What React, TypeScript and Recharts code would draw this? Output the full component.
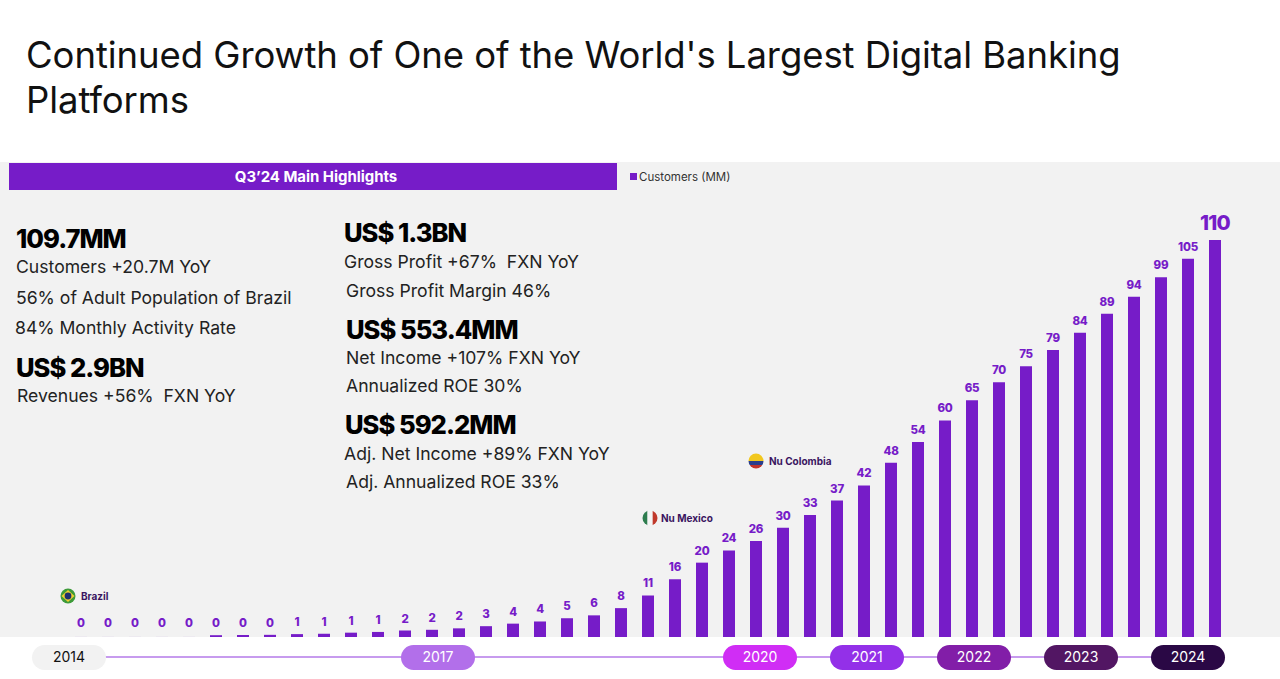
import React from "react";
import { BarChart, Bar, XAxis, YAxis, LabelList } from "recharts";

const quarterIds = [
  "Q1-14", "Q2-14", "Q3-14", "Q4-14", "Q1-15", "Q2-15", "Q3-15", "Q4-15", "Q1-16", "Q2-16", "Q3-16",
  "Q4-16", "Q1-17", "Q2-17", "Q3-17", "Q4-17", "Q1-18", "Q2-18", "Q3-18", "Q4-18", "Q1-19", "Q2-19",
  "Q3-19", "Q4-19", "Q1-20", "Q2-20", "Q3-20", "Q4-20", "Q1-21", "Q2-21", "Q3-21", "Q4-21", "Q1-22",
  "Q2-22", "Q3-22", "Q4-22", "Q1-23", "Q2-23", "Q3-23", "Q4-23", "Q1-24", "Q2-24", "Q3-24",
];
// bar heights (the first five have no visible bar)
const customers = [
  0.01, 0.01, 0.01, 0.01, 0.01, 0.5, 0.55, 0.6, 0.8, 0.9, 1.2, 1.4, 1.8, 2, 2.4, 3, 3.7, 4.3, 5.2, 6, 8, 11.5,
  16, 20.6, 24, 26.6, 30.3, 33.8, 37.8, 42, 48.3, 54, 60, 65.6, 70.6, 75, 79.5, 84.3, 89.6, 94.3, 99.7, 104.8, 110,
];
// printed labels
const customerLabels = [
  0, 0, 0, 0, 0, 0, 0, 0, 1, 1, 1, 1, 2, 2, 2, 3, 4, 4, 5, 6, 8, 11, 16, 20, 24,
  26, 30, 33, 37, 42, 48, 54, 60, 65, 70, 75, 79, 84, 89, 94, 99, 105, 110,
];
const years = ["2014", "2017", "2020", "2021", "2022", "2023", "2024"];
const yearColors = ["#F2F2F2", "#B26FEA", "#D02DF5", "#9330E8", "#821EA8", "#521663", "#2A0845"];
const yearCenters = [69, 438, 760, 867, 974, 1081, 1188];

const chartData = quarterIds.map((id, i) => ({ id, customers: customers[i], label: customerLabels[i] }));

const PURPLE = "#761CC8";
const FONT = "Inter, sans-serif";

const Txt = ({ x, y, size, weight = 400, color = "#111", ls = 0, children }: any) => (
  <div
    style={{
      position: "absolute",
      left: x,
      top: y,
      transform: "translateY(-50%)",
      fontSize: size,
      fontWeight: weight,
      color,
      letterSpacing: ls,
      whiteSpace: "pre",
      lineHeight: 1,
    }}
  >
    {children}
  </div>
);

const BarLabel = ({ x, y, width, height, value }: any) => {
  const big = value === 110;
  return (
    <text
      x={x + width / 2}
      y={y - (big ? 10 : height < 0.5 ? 9.5 : 8)}
      textAnchor="middle"
      fontFamily={FONT}
      fontWeight={800}
      fontSize={big ? 20.5 : 11.5}
      letterSpacing={big ? -0.8 : -0.2}
      fill={PURPLE}
    >
      {value}
    </text>
  );
};

const Flag = ({ x, y, stripes, vertical = false }: any) => {
  const id = `flag-${x}`;
  const n = stripes.length;
  return (
    <svg width={16} height={16} style={{ position: "absolute", left: x, top: y }}>
      <clipPath id={id}>
        <circle cx={8} cy={8} r={7.5} />
      </clipPath>
      <g clipPath={`url(#${id})`}>
        {stripes.map((c: string, i: number) =>
          vertical ? (
            <rect key={i} x={(i * 16) / n} y={0} width={16 / n + 0.5} height={16} fill={c} />
          ) : (
            <rect key={i} x={0} y={i === 0 ? 0 : 8 + (i - 1) * 4} width={16} height={i === 0 ? 8 : 4} fill={c} />
          ),
        )}
      </g>
    </svg>
  );
};

const BrazilFlag = ({ x, y }: any) => (
  <svg width={16} height={16} style={{ position: "absolute", left: x, top: y }}>
    <circle cx={8} cy={8} r={7.5} fill="#3E9B3A" />
    <polygon points="8,2 14.5,8 8,14 1.5,8" fill="#F0D030" />
    <circle cx={8} cy={8} r={3.4} fill="#1F2F6E" />
  </svg>
);

const leftTexts: [number, number, number, number, string][] = [
  [16, 239, 25.6, 800, "109.7MM"],
  [16, 267, 17.6, 400, "Customers +20.7M YoY"],
  [16, 297.5, 17.6, 400, "56% of Adult Population of Brazil"],
  [15, 328, 17.6, 400, "84% Monthly Activity Rate"],
  [16, 368, 25.6, 800, "US$ 2.9BN"],
  [17, 396, 17.6, 400, "Revenues +56%  FXN YoY"],
  [344, 233, 25.6, 800, "US$ 1.3BN"],
  [344, 262, 17.6, 400, "Gross Profit +67%  FXN YoY"],
  [346, 290.5, 17.6, 400, "Gross Profit Margin 46%"],
  [346, 330, 25.6, 800, "US$ 553.4MM"],
  [346, 358, 17.6, 400, "Net Income +107% FXN YoY"],
  [346, 386, 17.6, 400, "Annualized ROE 30%"],
  [345, 425, 25.6, 800, "US$ 592.2MM"],
  [344, 454, 17.6, 400, "Adj. Net Income +89% FXN YoY"],
  [346, 482, 17.6, 400, "Adj. Annualized ROE 33%"],
];

export default function App() {
  return (
    <div
      style={{
        position: "absolute",
        left: 0,
        top: 0,
        width: 1280,
        height: 679,
        overflow: "hidden",
        background: "#fff",
        fontFamily: FONT,
      }}
    >
      <div
        style={{
          position: "absolute",
          left: 26,
          top: 33,
          width: 1200,
          fontSize: 36.5,
          lineHeight: "45px",
          color: "#111",
          letterSpacing: -0.07,
        }}
      >
        Continued Growth of One of the World's Largest Digital Banking
        <br />
        Platforms
      </div>

      <div style={{ position: "absolute", left: 0, top: 162, width: 1280, height: 475, background: "#F2F2F2" }} />

      <div
        style={{
          position: "absolute",
          left: 9,
          top: 163,
          width: 602,
          paddingLeft: 6,
          height: 27,
          background: PURPLE,
          color: "#fff",
          fontSize: 15,
          fontWeight: 700,
          lineHeight: "28px",
          textAlign: "center",
          letterSpacing: -0.05,
        }}
      >
        Q3’24 Main Highlights
      </div>

      <div style={{ position: "absolute", left: 630, top: 173, width: 7, height: 7, background: PURPLE }} />
      <Txt x={639} y={177.5} size={11.5} color="#333">
        Customers (MM)
      </Txt>

      {leftTexts.map(([x, y, size, weight, t]) => (
        <Txt key={t} x={x} y={y} size={size} weight={weight} ls={weight === 800 ? -1 : 0} color={weight === 800 ? "#000" : "#222"}>
          {t}
        </Txt>
      ))}

      <div style={{ position: "absolute", left: 0, top: 0 }}>
        <BarChart
          width={1280}
          height={679}
          data={chartData}
          margin={{ top: 240, right: 52, bottom: 42, left: 67 }}
          barCategoryGap={0}
        >
          <XAxis dataKey="id" hide />
          <YAxis hide domain={[0, 110]} />
          <Bar dataKey="customers" fill={PURPLE} barSize={12} isAnimationActive={false}>
            <LabelList dataKey="label" content={<BarLabel />} />
          </Bar>
        </BarChart>
      </div>

      <BrazilFlag x={60} y={588} />
      <Txt x={81} y={596} size={10} weight={700} color="#3A1560">
        Brazil
      </Txt>
      <Flag x={642} y={510} stripes={["#2E7D4F", "#F5F5F5", "#C0392B"]} vertical />
      <Txt x={661} y={518} size={10} weight={700} color="#3A1560">
        Nu Mexico
      </Txt>
      <Flag x={748} y={453} stripes={["#F2C81E", "#2A3E8C", "#C0342B"]} />
      <Txt x={769} y={461} size={10} weight={700} color="#3A1560">
        Nu Colombia
      </Txt>

      <div style={{ position: "absolute", left: 100, top: 656, width: 1060, height: 2, background: "#C79BEE" }} />
      {years.map((year, i) => (
        <div
          key={year}
          style={{
            position: "absolute",
            left: yearCenters[i] - 37,
            top: 645,
            width: 74,
            height: 25,
            borderRadius: 13,
            background: yearColors[i],
            color: i === 0 ? "#111" : "#fff",
            fontSize: 14,
            lineHeight: "24px",
            textAlign: "center",
          }}
        >
          {year}
        </div>
      ))}
    </div>
  );
}
